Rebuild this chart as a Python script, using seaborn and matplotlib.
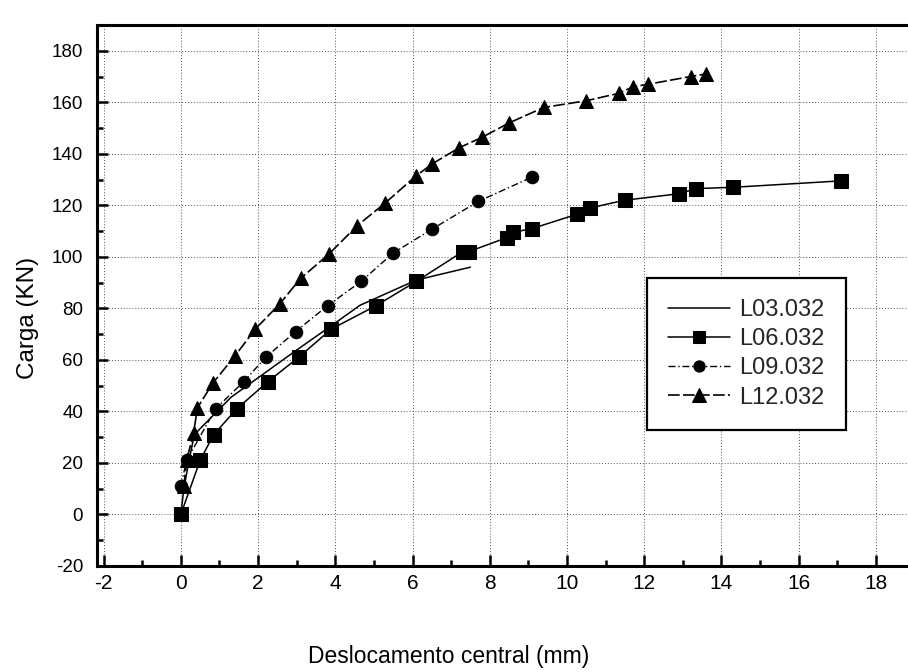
import matplotlib
matplotlib.use("Agg")
import matplotlib.pyplot as plt
from matplotlib.ticker import MultipleLocator
import seaborn as sns
import pandas as pd

# Load-displacement curves (central displacement in mm, load in kN)
l03_x = [0.0, 0.08, 0.2, 0.35, 1.3, 2.95, 3.93, 4.64, 6.1, 7.5]
l03_y = [0.0, 10.0, 20.0, 31.0, 45.5, 63.3, 73.6, 81.2, 91.0, 96.0]

l06_x = [0.0, 0.5, 0.85, 1.45, 2.25, 3.05, 3.9, 5.05, 6.1, 7.3, 7.45, 8.45,
         8.6, 9.1, 10.25, 10.6, 11.5, 12.9, 13.35, 14.3, 17.1]
l06_y = [0.0, 21.0, 31.0, 41.0, 51.5, 61.0, 72.0, 81.0, 90.5, 102.0, 102.0,
         107.5, 109.5, 111.0, 116.5, 119.0, 122.0, 124.5, 126.5, 127.0, 129.5]

l09_x = [0.0, 0.15, 0.9, 1.63, 2.2, 2.97, 3.8, 4.67, 5.5, 6.5, 7.7, 9.1]
l09_y = [11.0, 21.0, 41.0, 51.6, 61.0, 71.0, 81.0, 90.5, 101.5, 110.7, 121.5, 131.0]

l12_x = [0.08, 0.15, 0.33, 0.43, 0.83, 1.4, 1.93, 2.56, 3.1, 3.83, 4.56, 5.3,
         6.08, 6.5, 7.2, 7.8, 8.5, 9.4, 10.5, 11.35, 11.7, 12.1, 13.2, 13.6]
l12_y = [11.0, 21.0, 31.5, 41.4, 51.0, 61.5, 72.0, 81.7, 91.6, 101.0, 112.0,
         121.0, 131.3, 136.0, 142.3, 146.4, 152.0, 158.0, 160.6, 163.5, 166.0,
         167.0, 170.0, 171.0]

labels = ["L03.032", "L06.032", "L09.032", "L12.032"]

sns.set_theme(style="white")
plt.rcParams["font.family"] = ["Liberation Sans", "DejaVu Sans"]
plt.rcParams["axes.unicode_minus"] = False

fig = plt.figure(figsize=(9.08, 6.72), dpi=100)
ax = fig.add_axes([97 / 908, 1 - 566 / 672, (908 - 97) / 908, (566 - 25) / 672])

ax.grid(True, which="major", color="#555555", linestyle=(0, (1, 2)), linewidth=0.7)
ax.set_axisbelow(True)

series = [
    (l03_x, l03_y, labels[0], dict(marker=None, linestyle="-", linewidth=1.1)),
    (l06_x, l06_y, labels[1], dict(marker="s", markersize=9.5, linestyle="-", linewidth=1.1)),
    (l09_x, l09_y, labels[2], dict(marker="o", markersize=9, linestyle=(0, (5, 2, 1, 2)), linewidth=1.0)),
    (l12_x, l12_y, labels[3], dict(marker="^", markersize=10.5, linestyle=(0, (7, 2)), linewidth=1.2)),
]

for xs, ys, name, style in series:
    df = pd.DataFrame({"x": xs, "y": ys})
    sns.lineplot(data=df, x="x", y="y", ax=ax, sort=False, estimator=None,
                 color="black", markeredgecolor="black", markerfacecolor="black",
                 label=name, **style)

ax.set_xlim(-2.17, 18.83)
ax.set_ylim(-20, 190)
ax.xaxis.set_major_locator(MultipleLocator(2))
ax.xaxis.set_minor_locator(MultipleLocator(1))
ax.yaxis.set_major_locator(MultipleLocator(20))
ax.yaxis.set_minor_locator(MultipleLocator(10))

ax.tick_params(axis="both", which="major", direction="in", length=8, width=1.8,
               colors="black", top=False, right=False, bottom=True, left=True)
ax.tick_params(axis="both", which="minor", direction="in", length=4.5, width=1.8,
               colors="black", top=False, right=False, bottom=True, left=True)
ax.tick_params(axis="x", which="major", pad=6, labelsize=15)
ax.tick_params(axis="y", which="major", pad=10, labelsize=13.5)

for side in ["left", "bottom", "top"]:
    ax.spines[side].set_visible(True)
    ax.spines[side].set_color("black")
    ax.spines[side].set_linewidth(2.2)
ax.spines["right"].set_visible(False)

ax.set_xlabel("")
ax.set_ylabel("")
fig.text(449 / 908, 1 - 663 / 672, "Deslocamento central (mm)", ha="center",
         va="baseline", fontsize=16.5, color="black")
fig.text(28 / 908, 1 - 318 / 672, "Carga (KN)", ha="center", va="center",
         rotation=90, fontsize=17.5, color="black")

leg = ax.legend(loc="upper left", bbox_to_anchor=(647 / 908, 1 - 278 / 672),
                bbox_transform=fig.transFigure, frameon=True, fancybox=False,
                edgecolor="black", fontsize=17, handlelength=2.6,
                handletextpad=0.4, borderpad=0.9, labelspacing=0.3,
                borderaxespad=0, markerscale=0.9)
leg.get_frame().set_linewidth(1.6)
leg.get_frame().set_facecolor("white")
leg.get_frame().set_alpha(1)

fig.savefig("out.png", dpi=100, facecolor="white")
